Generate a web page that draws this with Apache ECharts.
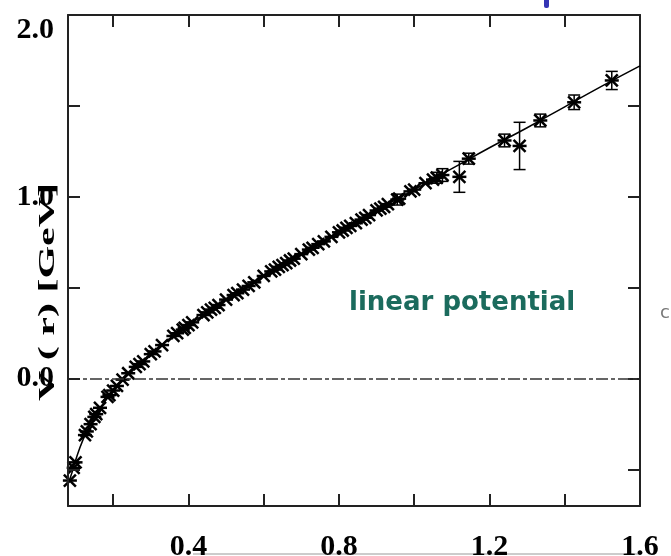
<!DOCTYPE html>
<html>
<head>
<meta charset="utf-8">
<script src="https://cdn.jsdelivr.net/npm/echarts@6/dist/echarts.min.js"></script>
<style>html,body{margin:0;padding:0;background:#fff}#c{width:671px;height:556px}</style>
</head>
<body>
<div id="c"></div>
<script>
// Fitted curve
const curveR = [0.08,0.09,0.10,0.12,0.14,0.16,0.18,0.20,0.23,0.26,0.30,0.35,0.40,0.45,0.50,0.60,0.70,0.80,0.90,1.00,1.10,1.20,1.30,1.40,1.50,1.60];
const curveV = [-0.58,-0.52,-0.45,-0.335,-0.25,-0.18,-0.12,-0.065,0.005,0.065,0.135,0.22,0.295,0.365,0.435,0.565,0.685,0.805,0.925,1.04,1.155,1.27,1.38,1.495,1.61,1.72];

// Lattice data points
const pointR = [0.085,0.095,0.10,0.125,0.13,0.14,0.15,0.155,0.165,0.185,0.19,0.20,0.21,0.225,0.24,0.26,0.27,0.28,0.30,0.31,0.33,0.36,0.37,0.385,0.39,0.40,0.41,0.44,0.45,0.46,0.47,0.48,0.50,0.52,0.53,0.545,0.56,0.575,0.60,0.62,0.63,0.64,0.65,0.66,0.67,0.68,0.70,0.72,0.73,0.745,0.76,0.78,0.80,0.81,0.82,0.83,0.845,0.86,0.87,0.88,0.90,0.91,0.92,0.93,0.955,0.96,0.99,1.00,1.03,1.05,1.06,1.075,1.12,1.145,1.24,1.28,1.335,1.425,1.525];
const pointV = [-0.56,-0.49,-0.46,-0.31,-0.29,-0.25,-0.21,-0.195,-0.16,-0.10,-0.09,-0.065,-0.04,-0.005,0.03,0.065,0.08,0.095,0.135,0.15,0.185,0.235,0.25,0.27,0.28,0.295,0.31,0.35,0.365,0.38,0.39,0.405,0.435,0.46,0.47,0.49,0.51,0.53,0.565,0.59,0.60,0.615,0.625,0.635,0.65,0.66,0.685,0.71,0.72,0.74,0.755,0.78,0.805,0.815,0.83,0.84,0.855,0.875,0.885,0.90,0.925,0.935,0.945,0.96,0.985,0.99,1.03,1.04,1.075,1.095,1.105,1.12,1.11,1.21,1.31,1.28,1.42,1.52,1.64];
const pointErr = [0.015,0.015,0.015,0.015,0.015,0.015,0.015,0.015,0.015,0.015,0.015,0.015,0.015,0.015,0.015,0.015,0.015,0.015,0.015,0.015,0.015,0.015,0.015,0.015,0.015,0.015,0.015,0.015,0.015,0.015,0.015,0.015,0.015,0.015,0.015,0.015,0.015,0.015,0.015,0.015,0.015,0.015,0.015,0.015,0.015,0.015,0.015,0.015,0.015,0.015,0.015,0.015,0.015,0.015,0.015,0.015,0.015,0.015,0.015,0.015,0.015,0.015,0.015,0.02,0.03,0.015,0.015,0.015,0.015,0.02,0.03,0.035,0.085,0.03,0.035,0.13,0.035,0.04,0.05];

const xTicks = [0.2,0.4,0.6,0.8,1.0,1.2,1.4];
const xLabels = [0.4,0.8,1.2,1.6];
const yTicks = [-0.5,0,0.5,1.0,1.5];
const yLabels = [0.0,1.0,2.0];

const curveData = curveR.map((r,i)=>[r,curveV[i]]);
const pointData = pointR.map((r,i)=>[r,pointV[i],pointErr[i]]);

const chart = echarts.init(document.getElementById('c'));
const axisLineStyle = {color:'#222', width:2};
const labelFont = {fontFamily:'Liberation Serif', fontWeight:'bold', fontSize:30, color:'#000'};

chart.setOption({
  animation:false,
  grid:{left:68, right:31, top:15, bottom:50, containLabel:false, outerBoundsMode:'none'},
  xAxis:[{
    type:'value', min:0.08, max:1.6, position:'bottom',
    axisLine:{show:true, onZero:false, lineStyle:axisLineStyle},
    axisTick:{show:true, inside:true, length:12, customValues:xTicks, lineStyle:axisLineStyle},
    axisLabel:Object.assign({show:true, margin:26, customValues:xLabels, formatter:v=>v.toFixed(1)}, labelFont),
    splitLine:{show:false}
  },{
    type:'value', min:0.08, max:1.6, position:'top',
    axisLine:{show:true, onZero:false, lineStyle:axisLineStyle},
    axisTick:{show:true, inside:true, length:12, customValues:xTicks, lineStyle:axisLineStyle},
    axisLabel:{show:false}, splitLine:{show:false}
  }],
  yAxis:[{
    type:'value', min:-0.7, max:2.0, position:'left', z:5,
    axisLine:{show:true, onZero:false, lineStyle:axisLineStyle},
    axisTick:{show:true, inside:true, length:12, customValues:yTicks, lineStyle:axisLineStyle},
    axisLabel:Object.assign({show:true, margin:14, customValues:yLabels, formatter:v=>v.toFixed(1), verticalAlignMaxLabel:'top'}, labelFont),
    splitLine:{show:false}
  },{
    type:'value', min:-0.7, max:2.0, position:'right',
    axisLine:{show:true, onZero:false, lineStyle:axisLineStyle},
    axisTick:{show:true, inside:true, length:12, customValues:yTicks, lineStyle:axisLineStyle},
    axisLabel:{show:false}, splitLine:{show:false}
  }],
  series:[{
    type:'line', data:curveData, smooth:true, showSymbol:false,
    lineStyle:{color:'#000', width:1.5},
    markLine:{silent:true, symbol:['none','none'], label:{show:false},
      lineStyle:{color:'#333', width:1.5, type:[12,3,4,3]},
      data:[{yAxis:0}]},
    z:3
  },{
    type:'custom', data:pointData, z:4,
    renderItem:function(params, api){
      const r = api.value(0), v = api.value(1), e = api.value(2);
      const c = api.coord([r,v]);
      const top = api.coord([r,v+e])[1], bot = api.coord([r,v-e])[1];
      const s = 6, st = {stroke:'#000', lineWidth:2.5};
      const kids = [
        {type:'line', shape:{x1:c[0]-s,y1:c[1]-s,x2:c[0]+s,y2:c[1]+s}, style:st},
        {type:'line', shape:{x1:c[0]-s,y1:c[1]+s,x2:c[0]+s,y2:c[1]-s}, style:st},
        {type:'line', shape:{x1:c[0]-s-1,y1:c[1],x2:c[0]+s+1,y2:c[1]}, style:st}
      ];
      if (bot-top > 8){
        const st2 = {stroke:'#000', lineWidth:1.5};
        kids.push({type:'line', shape:{x1:c[0],y1:top,x2:c[0],y2:bot}, style:st2});
        kids.push({type:'line', shape:{x1:c[0]-6,y1:top,x2:c[0]+6,y2:top}, style:st2});
        kids.push({type:'line', shape:{x1:c[0]-6,y1:bot,x2:c[0]+6,y2:bot}, style:st2});
      }
      return {type:'group', children:kids};
    }
  }],
  graphic:[
    {type:'text', x:48, y:292, rotation:Math.PI/2, scaleX:1.4, scaleY:0.75, z:0,
      style:{text:'V ( r) [GeV]', fontFamily:'Liberation Serif', fontWeight:'bold', fontSize:30, fill:'#000', align:'center', verticalAlign:'middle'}},
    {type:'text', x:349, y:303,
      style:{text:'linear potential', fontFamily:'"Comic Sans MS", "DejaVu Sans"', fontWeight:'bold', fontSize:26, fill:'#1b6b5d', align:'left', verticalAlign:'middle'}},
    {type:'text', x:660, y:313, style:{text:'c', fontFamily:'DejaVu Sans', fontSize:18, fill:'#777', verticalAlign:'middle'}},
    {type:'rect', shape:{x:544, y:-4, width:5, height:12, r:2}, style:{fill:'#3535b5'}},
    {type:'line', shape:{x1:193, y1:554, x2:640, y2:554}, style:{stroke:'#999', lineWidth:1}}
  ]
});
</script>
</body>
</html>
